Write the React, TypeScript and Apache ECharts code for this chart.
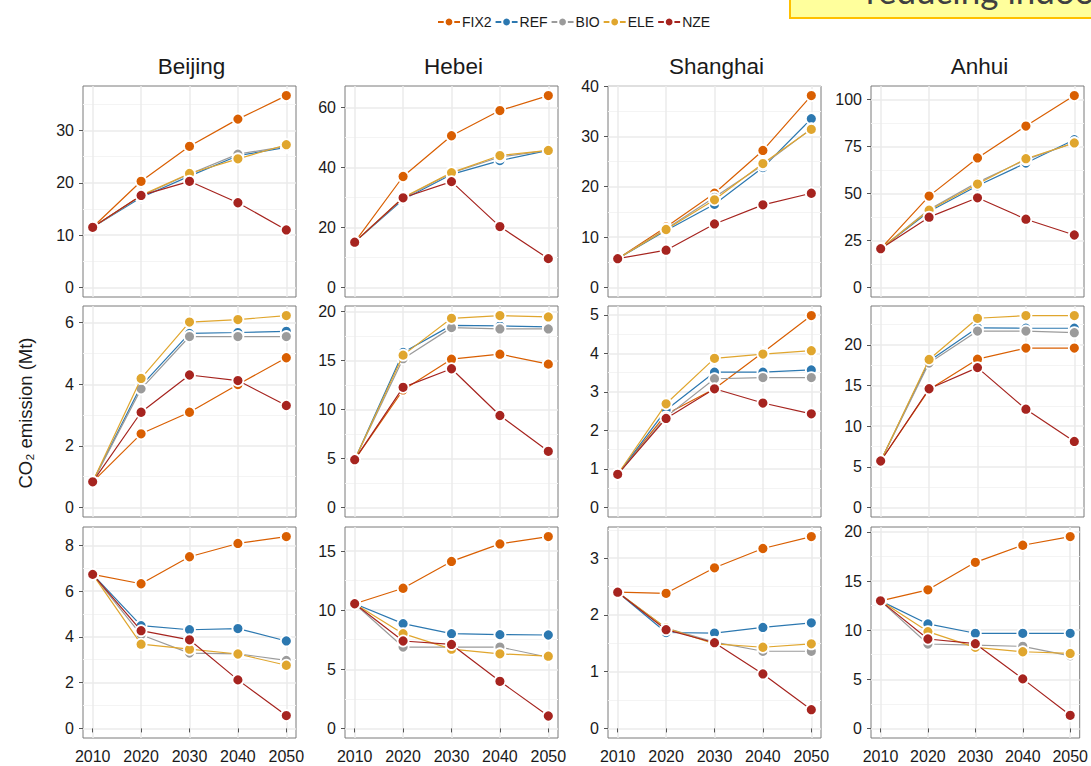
import React, { useEffect, useRef } from 'react';
import * as echarts from 'echarts';

// ---------- data ----------
const years = [2010, 2020, 2030, 2040, 2050];
const regions = ['Beijing', 'Hebei', 'Shanghai', 'Anhui'];
const scenarios = ['FIX2', 'REF', 'BIO', 'ELE', 'NZE'];
const scenarioColors = ['#D95F02', '#2C78B0', '#9B9B9B', '#E0A62E', '#A6241F'];

// each panel: rows in scenario order FIX2, REF, BIO, ELE, NZE
const r1Beijing = [
  [11.5, 20.3, 27.0, 32.2, 36.7],
  [11.5, 17.2, 21.3, 25.2, 26.8],
  [11.5, 17.5, 21.7, 25.5, 27.0],
  [11.5, 17.6, 21.8, 24.6, 27.3],
  [11.5, 17.6, 20.3, 16.2, 11.0],
];
const r1Hebei = [
  [15.1, 37.0, 50.6, 59.0, 64.0],
  [15.1, 29.3, 37.7, 42.3, 45.7],
  [15.1, 29.8, 38.2, 43.5, 45.7],
  [15.1, 30.0, 38.3, 44.0, 45.7],
  [15.1, 29.9, 35.3, 20.3, 9.6],
];
const r1Shanghai = [
  [5.7, 12.0, 18.7, 27.2, 38.1],
  [5.7, 11.3, 16.5, 23.8, 33.5],
  [5.7, 11.6, 17.9, 24.3, 31.5],
  [5.7, 11.5, 17.4, 24.6, 31.4],
  [5.7, 7.4, 12.6, 16.4, 18.7],
];
const r1Anhui = [
  [20.6, 48.6, 68.9, 85.9, 102.1],
  [20.6, 40.4, 54.1, 66.2, 78.6],
  [20.6, 41.5, 55.9, 68.0, 77.0],
  [20.6, 41.1, 55.0, 68.5, 76.9],
  [20.6, 37.4, 47.7, 36.3, 27.9],
];
const r2Beijing = [
  [0.83, 2.39, 3.09, 3.99, 4.86],
  [0.83, 3.95, 5.65, 5.68, 5.72],
  [0.83, 3.85, 5.55, 5.55, 5.55],
  [0.83, 4.19, 6.02, 6.1, 6.23],
  [0.83, 3.09, 4.3, 4.12, 3.31],
];
const r2Hebei = [
  [4.88, 12.0, 15.15, 15.66, 14.64],
  [4.88, 15.83, 18.6, 18.54, 18.44],
  [4.88, 15.2, 18.37, 18.24, 18.24],
  [4.88, 15.56, 19.32, 19.6, 19.46],
  [4.88, 12.27, 14.17, 9.39, 5.73],
];
const r2Shanghai = [
  [0.86, 2.42, 3.08, 4.02, 4.98],
  [0.86, 2.53, 3.51, 3.51, 3.57],
  [0.86, 2.35, 3.34, 3.37, 3.37],
  [0.86, 2.69, 3.87, 3.98, 4.07],
  [0.86, 2.31, 3.08, 2.71, 2.43],
];
const r2Anhui = [
  [5.71, 14.5, 18.24, 19.6, 19.6],
  [5.71, 18.0, 22.1, 22.04, 22.04],
  [5.71, 17.76, 21.7, 21.7, 21.5],
  [5.71, 18.2, 23.27, 23.6, 23.6],
  [5.71, 14.6, 17.2, 12.08, 8.12],
];
const r3Beijing = [
  [6.73, 6.32, 7.5, 8.08, 8.38],
  [6.73, 4.49, 4.31, 4.36, 3.82],
  [6.73, 4.09, 3.29, 3.26, 2.97],
  [6.73, 3.68, 3.46, 3.25, 2.76],
  [6.73, 4.27, 3.87, 2.12, 0.56],
];
const r3Hebei = [
  [10.54, 11.85, 14.12, 15.6, 16.22],
  [10.54, 8.86, 8.01, 7.93, 7.9],
  [10.54, 6.88, 6.88, 6.88, 6.02],
  [10.54, 8.01, 6.7, 6.31, 6.11],
  [10.54, 7.39, 7.1, 3.98, 1.05],
];
const r3Shanghai = [
  [2.4, 2.38, 2.83, 3.17, 3.38],
  [2.4, 1.69, 1.68, 1.78, 1.86],
  [2.4, 1.77, 1.52, 1.36, 1.36],
  [2.4, 1.77, 1.49, 1.43, 1.49],
  [2.4, 1.74, 1.51, 0.96, 0.33],
];
const r3Anhui = [
  [12.98, 14.1, 16.9, 18.64, 19.52],
  [12.98, 10.63, 9.68, 9.68, 9.68],
  [12.98, 8.59, 8.48, 8.35, 7.39],
  [12.98, 9.85, 8.25, 7.8, 7.63],
  [12.98, 9.1, 8.62, 5.04, 1.33],
];

const r1Ticks = [[0, 10, 20, 30], [0, 20, 40, 60], [0, 10, 20, 30, 40], [0, 25, 50, 75, 100]];
const r2Ticks = [[0, 2, 4, 6], [0, 5, 10, 15, 20], [0, 1, 2, 3, 4, 5], [0, 5, 10, 15, 20]];
const r3Ticks = [[0, 2, 4, 6, 8], [0, 5, 10, 15], [0, 1, 2, 3], [0, 5, 10, 15, 20]];

const panels = [
  [r1Beijing, r1Hebei, r1Shanghai, r1Anhui],
  [r2Beijing, r2Hebei, r2Shanghai, r2Anhui],
  [r3Beijing, r3Hebei, r3Shanghai, r3Anhui],
];
const panelTicks = [r1Ticks, r2Ticks, r3Ticks];

const yTitle = 'CO₂ emission (Mt)';
const bannerText = 'reducing indoo';

// ---------- layout ----------
const FONT = '"Liberation Sans", Arial, sans-serif';
const colLeft = [83, 345, 608, 871];
const rowTop = [86, 306, 527];
const PW = 213;
const PH = 211;

function buildOption() {
  const grid: any[] = [];
  const xAxis: any[] = [];
  const yAxis: any[] = [];
  const series: any[] = [];
  const graphic: any[] = [];

  let p = 0;
  for (let r = 0; r < 3; r++) {
    for (let c = 0; c < 4; c++) {
      const data = panels[r][c];
      const ticks = panelTicks[r][c];
      const flat = data.flat();
      const mx = Math.max(0, ...flat);
      const mn = Math.min(0, ...flat);
      const d = mx - mn;
      const lo = mn - 0.05 * d;
      const hi = mx + 0.05 * d;
      const step = ticks[1] - ticks[0];
      const minors = ticks.map((t) => t + step / 2).filter((v) => v < hi);
      const isBottom = r === 2;

      grid.push({
        left: colLeft[c],
        top: rowTop[r],
        width: PW,
        height: PH,
        show: true,
        borderColor: '#7a7a7a',
        borderWidth: 1,
        backgroundColor: '#ffffff',
      });
      xAxis.push({
        gridIndex: p,
        type: 'value',
        min: 2008,
        max: 2052,
        axisLine: { show: false },
        axisTick: {
          show: isBottom,
          customValues: years,
          length: 4,
          lineStyle: { color: '#555555', width: 1 },
        },
        axisLabel: {
          show: isBottom,
          customValues: years,
          formatter: (v: number) => String(v),
          fontSize: 16,
          fontFamily: FONT,
          color: '#1a1a1a',
          margin: 10,
        },
        splitLine: { show: true, lineStyle: { color: '#EBEBEB', width: 1.5 } },
      });
      yAxis.push({
        gridIndex: p,
        type: 'value',
        min: lo,
        max: hi,
        axisLine: { show: false },
        axisTick: {
          show: true,
          customValues: ticks,
          length: 4,
          lineStyle: { color: '#555555', width: 1 },
        },
        axisLabel: {
          customValues: ticks,
          formatter: (v: number) => String(v),
          fontSize: 16,
          fontFamily: FONT,
          color: '#1a1a1a',
          margin: 9,
        },
        splitLine: { show: true, lineStyle: { color: '#EBEBEB', width: 1.5 } },
      });
      yAxis.push({
        gridIndex: p,
        type: 'value',
        position: 'left',
        min: lo,
        max: hi,
        axisLine: { show: false },
        axisTick: { show: false, customValues: minors },
        axisLabel: { show: false, customValues: minors },
        splitLine: { show: true, lineStyle: { color: '#F4F4F4', width: 1 } },
      });

      scenarios.forEach((name, si) => {
        series.push({
          type: 'line',
          name,
          xAxisIndex: p,
          yAxisIndex: 2 * p,
          data: years.map((yr, i) => [yr, data[si][i]]),
          symbol: 'circle',
          symbolSize: 11,
          showSymbol: true,
          lineStyle: { color: scenarioColors[si], width: 1.2 },
          itemStyle: { color: scenarioColors[si], borderColor: '#ffffff', borderWidth: 1.8 },
          emphasis: { disabled: true },
          z: 2 + si,
        });
      });
      p++;
    }
  }

  regions.forEach((name, c) => {
    graphic.push({
      type: 'text',
      x: colLeft[c] + PW / 2 + 2,
      y: 66,
      style: {
        text: name,
        fill: '#1a1a1a',
        font: `22.5px ${FONT}`,
        align: 'center',
        verticalAlign: 'middle',
      },
    });
  });

  graphic.push({
    type: 'text',
    x: 25,
    y: 413,
    rotation: Math.PI / 2,
    style: {
      text: yTitle,
      fill: '#1a1a1a',
      font: `18.5px ${FONT}`,
      align: 'center',
      verticalAlign: 'middle',
    },
  });

  graphic.push({
    type: 'rect',
    shape: { x: 790, y: -20, width: 320, height: 38 },
    style: { fill: '#FFFF9C', stroke: '#FFC000', lineWidth: 2 },
  });
  graphic.push({
    type: 'text',
    x: 866,
    y: 7,
    style: {
      text: bannerText,
      fill: '#404040',
      font: '35px Lato, "Open Sans", sans-serif',
      align: 'left',
      verticalAlign: 'bottom',
    },
  });

  return {
    animation: false,
    backgroundColor: '#ffffff',
    legend: {
      data: scenarios,
      left: 432,
      top: 10,
      itemWidth: 22,
      itemHeight: 11,
      itemGap: 3,
      textStyle: { fontSize: 14, fontFamily: FONT, color: '#1a1a1a', padding: [0, 0, 0, -3] },
      selectedMode: false,
    },
    grid,
    xAxis,
    yAxis,
    series,
    graphic,
  };
}

export default function App() {
  const ref = useRef<HTMLDivElement>(null);
  useEffect(() => {
    if (!ref.current) return;
    const chart = echarts.init(ref.current, undefined, { renderer: 'svg' });
    chart.setOption(buildOption() as any);
    return () => chart.dispose();
  }, []);
  return (
    <div
      ref={ref}
      style={{ position: 'absolute', left: 0, top: 0, width: 1091, height: 766, background: '#fff' }}
    />
  );
}
